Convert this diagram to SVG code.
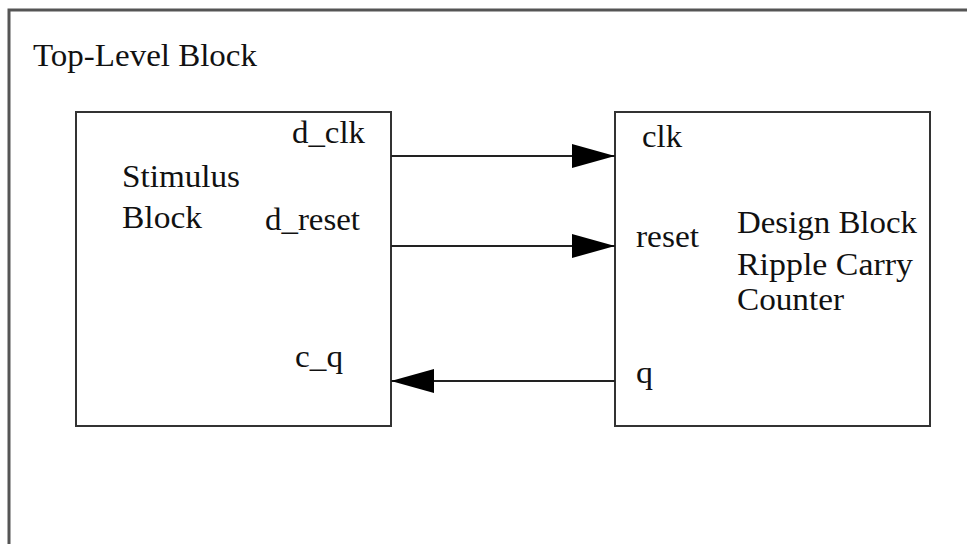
<svg xmlns="http://www.w3.org/2000/svg" width="967" height="544" viewBox="0 0 967 544">
<style>
.box{fill:#fff;stroke:#333;stroke-width:2}
.outer{fill:#fff;stroke:#555;stroke-width:3}
.wire{stroke:#222;stroke-width:2;fill:none}
.t{font-family:'Liberation Serif','Times New Roman',Times,serif;font-size:32px;fill:#111}
</style>
<defs>
<marker id="ah" viewBox="0 0 43 24" refX="43" refY="12" markerWidth="43" markerHeight="24" markerUnits="userSpaceOnUse" orient="auto">
<path d="M0,0 L43,12 L0,24 Z" fill="#000"/>
</marker>
</defs>
<g id="top-level">
<rect class="outer" x="9" y="10" width="1000" height="600"/>
<text class="t" x="33" y="66" textLength="224" lengthAdjust="spacingAndGlyphs">Top-Level Block</text>
</g>
<g id="stimulus">
<rect class="box" x="76" y="112" width="315" height="314"/>
<text class="t" x="122" y="187" textLength="118" lengthAdjust="spacingAndGlyphs">Stimulus</text>
<text class="t" x="122" y="228" textLength="80" lengthAdjust="spacingAndGlyphs">Block</text>
<text class="t" x="292" y="143" textLength="73" lengthAdjust="spacingAndGlyphs">d_clk</text>
<text class="t" x="265" y="230" textLength="95" lengthAdjust="spacingAndGlyphs">d_reset</text>
<text class="t" x="295" y="367" textLength="48" lengthAdjust="spacingAndGlyphs">c_q</text>
</g>
<g id="design">
<rect class="box" x="615" y="112" width="315" height="314"/>
<text class="t" x="642" y="147" textLength="40" lengthAdjust="spacingAndGlyphs">clk</text>
<text class="t" x="636" y="247" textLength="63" lengthAdjust="spacingAndGlyphs">reset</text>
<text class="t" x="636" y="383" textLength="17" lengthAdjust="spacingAndGlyphs">q</text>
<text class="t" x="737" y="233" textLength="180" lengthAdjust="spacingAndGlyphs">Design Block</text>
<text class="t" x="737" y="275" textLength="176" lengthAdjust="spacingAndGlyphs">Ripple Carry</text>
<text class="t" x="737" y="310" textLength="107" lengthAdjust="spacingAndGlyphs">Counter</text>
</g>
<g id="connectors">
<line class="wire" x1="391" y1="156" x2="615" y2="156" marker-end="url(#ah)"/>
<line class="wire" x1="391" y1="246" x2="615" y2="246" marker-end="url(#ah)"/>
<line class="wire" x1="615" y1="381" x2="391" y2="381" marker-end="url(#ah)"/>
</g>
</svg>
